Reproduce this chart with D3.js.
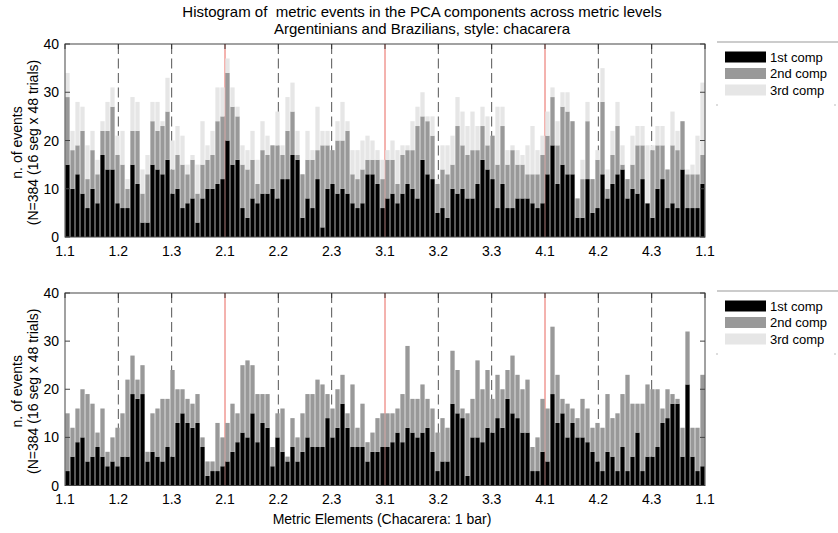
<!DOCTYPE html>
<html><head><meta charset="utf-8">
<script src="https://cdn.jsdelivr.net/npm/d3@7"></script>
<style>body{margin:0;background:#fff}svg{display:block;font-family:"Liberation Sans",Arial,Helvetica,sans-serif}text{white-space:pre}</style>
</head><body><svg id="c" width="838" height="533"></svg>
<script>
const tickLabels=["1.1","1.2","1.3","2.1","2.2","2.3","3.1","3.2","3.3","4.1","4.2","4.3","1.1"];
const yTicks=[0,10,20,30,40];
const seriesNames=["1st comp","2nd comp","3rd comp"];
const titleLines=["Histogram of  metric events in the PCA components across metric levels","Argentinians and Brazilians, style: chacarera"];
const yLabelLines=["n. of events","(N=384 (16 seg x 48 trials)"];
const xLabel="Metric Elements (Chacarera: 1 bar)";

const topComp1=[15,10,13,9,6,10,7,17,14,14, 7,6,6,15,11,3,3,15,14,13, 16,9,10,6,7,8,3,8,10,10, 11,12,20,15,16,6,4,8,7,9, 9,10,8,12,12,17,16,4,8,6, 12,2,10,11,9,10,9,7,6,7, 13,13,11,6,8,9,7,9,11,10, 8,16,13,12,5,6,4,10,9,10, 8,8,11,16,14,12,6,11,6,6, 8,8,8,7,6,7,13,19,11,15, 13,13,4,4,12,5,6,13,8,11, 13,14,8,10,9,12,7,4,10,12, 6,7,6,14,6,6,6,11];
const topComp2=[14,8,6,13,6,8,6,5,8,13, 10,9,4,7,11,6,10,9,8,10, 10,5,7,9,6,8,6,7,6,7, 13,13,14,12,9,9,10,8,4,9, 8,9,11,5,10,9,1,9,8,10, 6,17,9,7,11,10,13,6,6,7, 3,3,5,6,8,7,4,8,7,8, 15,9,11,9,6,8,9,5,14,9, 9,10,7,7,5,9,9,12,9,12, 7,7,5,6,7,10,8,10,8,12, 13,11,4,8,12,7,10,15,2,6, 10,1,4,5,10,7,0,14,9,7, 8,12,12,10,7,7,7,6];
const topComp3=[5,4,9,5,7,4,3,2,6,4, 4,7,2,7,6,5,4,4,6,1, 7,6,6,6,2,1,6,9,3,5, 7,6,3,4,2,4,4,6,5,6, 4,0,7,2,7,6,5,0,6,2, 9,3,3,0,4,8,2,5,6,6, 5,4,2,4,2,4,7,2,1,6, 4,5,1,4,1,5,6,6,6,7, 6,8,5,4,6,0,12,4,3,1, 3,2,6,10,5,4,5,2,5,3, 4,0,0,4,4,0,2,7,4,5, 5,4,0,6,4,4,12,1,4,4, 0,7,4,0,1,2,8,15];
const botComp1=[3,6,9,10,5,6,8,6,4,5, 4,6,6,19,18,19,5,7,6,5, 8,6,13,15,13,12,13,8,2,3, 3,4,5,7,9,11,10,15,9,13, 12,4,10,7,5,8,5,7,10,8, 8,8,14,10,12,17,12,8,8,8, 5,7,7,8,8,9,11,9,12,11, 10,11,12,7,3,5,5,17,15,14, 2,10,10,9,12,11,14,12,18,15, 14,11,11,3,3,7,5,19,13,15, 10,13,10,10,9,7,5,3,7,6, 3,8,3,6,11,3,6,6,8,13, 14,17,17,6,21,6,3,4];
const botComp2=[12,6,7,10,14,11,3,10,3,5, 8,9,16,8,4,6,2,8,10,13, 10,18,7,5,5,5,6,2,3,2, 10,6,8,10,6,14,16,10,10,6, 7,4,5,9,1,6,5,8,9,11, 14,13,5,6,8,6,3,13,4,9, 4,4,7,7,7,6,5,10,17,7, 8,10,6,9,8,9,7,11,9,2, 13,8,16,11,12,7,9,8,6,12, 9,9,11,5,7,11,11,14,10,3, 7,3,4,8,7,5,8,9,12,8, 12,11,20,11,6,14,15,14,12,3, 6,2,1,6,11,6,9,19];
const botComp3=[0,0,0,0,0,0,0,0,0,0, 0,0,0,0,0,0,0,0,0,0, 0,0,0,0,0,0,0,0,0,0, 0,0,0,0,0,0,0,0,0,0, 0,0,0,0,0,0,0,0,0,0, 0,0,0,0,0,0,0,0,0,0, 0,0,0,0,0,0,0,0,0,0, 0,0,0,0,0,0,0,0,0,0, 0,0,0,0,0,0,0,0,0,0, 0,0,0,0,0,0,0,0,0,0, 0,0,0,0,0,0,0,0,0,0, 0,0,0,0,0,0,0,0,0,0, 0,0,0,0,0,0,0,0];

const colors=["#000000","#999999","#e6e6e6"];
const svg=d3.select("#c");
const FS=14;
const left=65,right=705;
const nBins=topComp1.length;
const xBin=d3.scaleLinear().domain([0,nBins]).range([left,right]);
const xTick=d3.scaleLinear().domain([0,tickLabels.length-1]).range([left,right]);

// title
svg.selectAll("text.title").data(titleLines).enter().append("text")
  .attr("x",422).attr("y",(d,i)=>17+i*16.5).attr("text-anchor","middle")
  .attr("font-size",15).attr("fill","#000").text(d=>d);

function panel(top,bottom,c1,c2,c3,showX){
  const y=d3.scaleLinear().domain([0,40]).range([bottom,top]);
  const g=svg.append("g");
  const inner=d3.range(1,tickLabels.length-1);
  g.selectAll("line.v").data(inner).enter().append("line")
    .attr("x1",d=>xTick(d)).attr("x2",d=>xTick(d))
    .attr("y1",top).attr("y2",bottom)
    .attr("stroke",d=>d%3===0?"#e8665e":"#555")
    .attr("stroke-width",1)
    .attr("stroke-dasharray",d=>d%3===0?null:"10,4.5");
  const rows=c1.map((v,i)=>({i:i,a:v,b:c2[i],c:c3[i]}));
  const stack=d3.stack().keys(["a","b","c"])(rows);
  g.selectAll("g.s").data(stack).enter().append("g")
    .attr("fill",(d,k)=>colors[k])
    .selectAll("rect").data(d=>d.filter(p=>p[1]>p[0])).enter().append("rect")
    .attr("x",p=>xBin(p.data.i)+0.35)
    .attr("width",xBin(1)-xBin(0)-0.7)
    .attr("y",p=>y(p[1]))
    .attr("height",p=>y(p[0])-y(p[1]));
  g.append("rect").attr("x",left).attr("y",top).attr("width",right-left).attr("height",bottom-top)
    .attr("fill","none").attr("stroke","#444").attr("stroke-width",1);
  yTicks.forEach(t=>{
    g.append("line").attr("x1",left).attr("x2",left+5).attr("y1",y(t)).attr("y2",y(t)).attr("stroke","#444");
    g.append("line").attr("x1",right-5).attr("x2",right).attr("y1",y(t)).attr("y2",y(t)).attr("stroke","#444");
  });
  g.selectAll("text.yt").data(yTicks).enter().append("text")
    .attr("x",59).attr("y",d=>y(d)+5).attr("text-anchor","end")
    .attr("font-size",FS).text(d=>d);
  tickLabels.forEach((t,i)=>{
    g.append("line").attr("x1",xTick(i)).attr("x2",xTick(i)).attr("y1",top).attr("y2",top+5).attr("stroke","#333");
  });
  g.selectAll("text.xt").data(tickLabels).enter().append("text")
    .attr("x",(d,i)=>xTick(i)).attr("y",bottom+18.5).attr("text-anchor","middle")
    .attr("font-size",FS).text(d=>d);
  const mid=(top+bottom)/2+2;
  g.selectAll("text.yl").data(yLabelLines).enter().append("text")
    .attr("transform",(d,i)=>`translate(${22+i*16},${mid}) rotate(-90)`)
    .attr("text-anchor","middle").attr("font-size",FS).text(d=>d);
  const lt=top-2;
  g.append("line").attr("x1",717).attr("x2",838).attr("y1",lt).attr("y2",lt).attr("stroke","#999");
  g.append("line").attr("x1",717).attr("x2",717).attr("y1",lt+62).attr("y2",lt+64).attr("stroke","#bbb");
  g.append("line").attr("x1",835).attr("x2",835).attr("y1",lt+62).attr("y2",lt+64).attr("stroke","#bbb");
  const lg=g.selectAll("g.lg").data(seriesNames).enter().append("g")
    .attr("transform",(d,i)=>`translate(725,${lt+15+i*16.5})`);
  lg.append("rect").attr("x",0).attr("y",-5.5).attr("width",41).attr("height",11).attr("fill",(d,i)=>colors[i]);
  lg.append("text").attr("x",45).attr("y",4.5).attr("font-size",13).text(d=>d);
  if(showX){
    svg.append("text").attr("x",382).attr("y",bottom+38).attr("text-anchor","middle")
      .attr("font-size",FS).text(xLabel);
  }
}
panel(44,237,topComp1,topComp2,topComp3,false);
panel(293,485.5,botComp1,botComp2,botComp3,true);
</script></body></html>
